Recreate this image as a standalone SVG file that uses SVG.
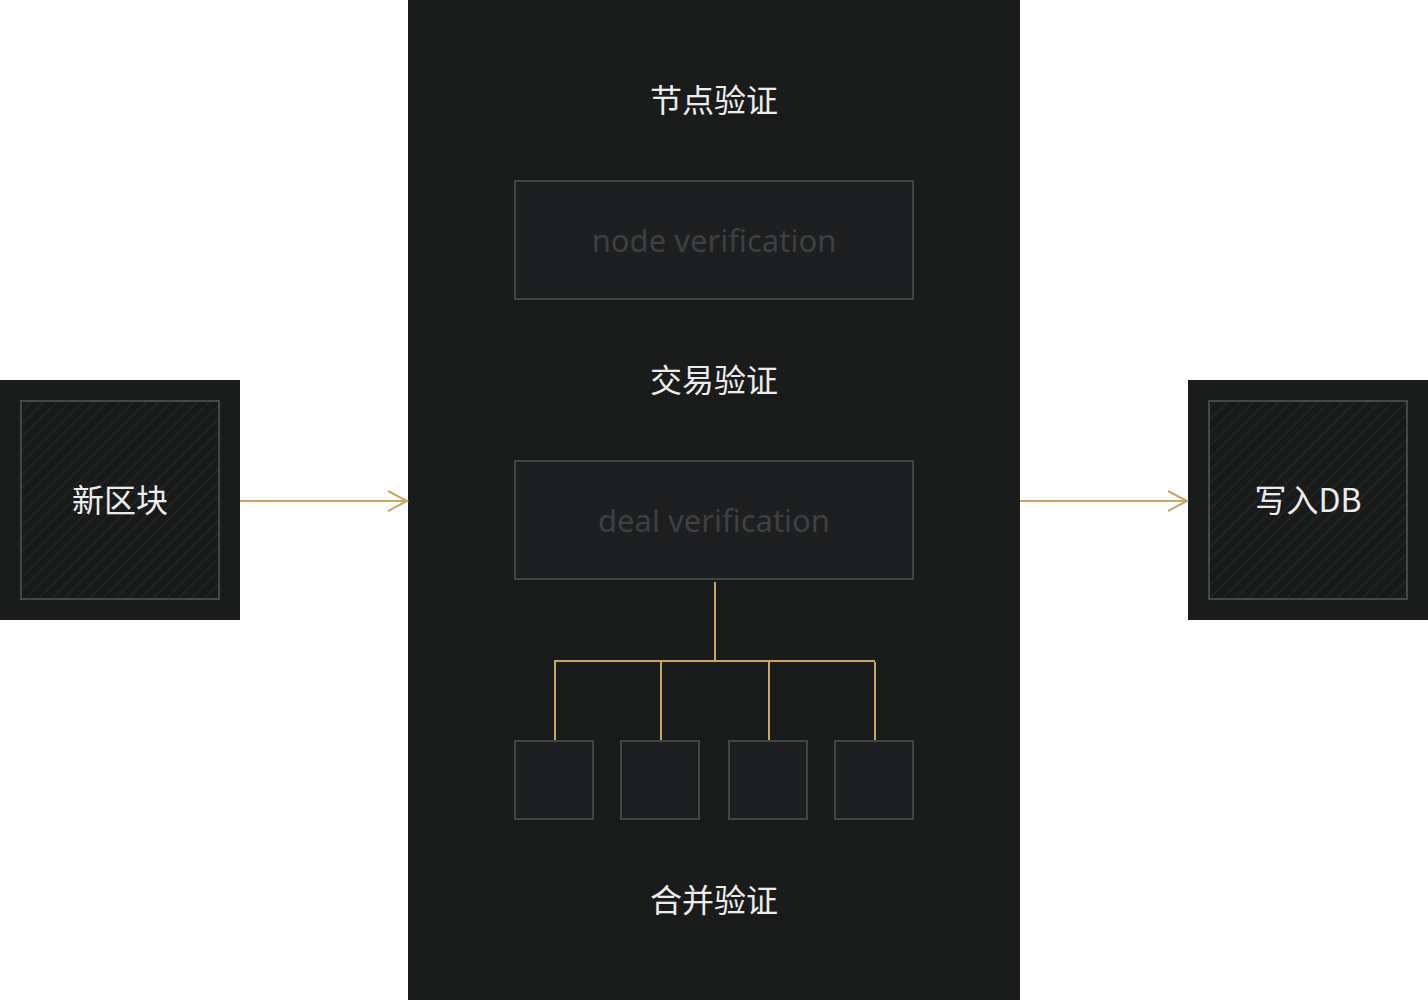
<svg xmlns="http://www.w3.org/2000/svg" width="1428" height="1000" viewBox="0 0 1428 1000">
<style>
.panel{fill:#1a1b1b}
.box{fill:#1d1f20;stroke:#434445;stroke-width:2}
.hbox{fill:url(#hatch);stroke:#464748;stroke-width:2}
.title{font-family:"Noto Sans CJK SC","Noto Sans",sans-serif;font-size:32px;fill:#ececec;text-anchor:middle}
.ghost{font-family:"Noto Sans","Liberation Sans",sans-serif;font-size:31px;fill:#3e4041;text-anchor:middle}
.conn{stroke:#c9a865;stroke-width:2;fill:none}
</style>
<defs>
<pattern id="hatch" patternUnits="userSpaceOnUse" width="9" height="9" patternTransform="rotate(45)">
<rect width="9" height="9" fill="#191a1a"/>
<line x1="0" y1="0" x2="0" y2="9" stroke="#272828" stroke-width="2"/>
</pattern>
<marker id="arr" markerWidth="24" markerHeight="24" refX="21" refY="12" orient="auto" markerUnits="userSpaceOnUse">
<path d="M2,2 L21,12 L2,22" fill="none" stroke="#c9a865" stroke-width="2"/>
</marker>
</defs>
<g id="new-block">
<rect class="panel" x="0" y="380" width="240" height="240"/>
<rect class="hbox" x="21" y="401" width="198" height="198"/>
<text class="title" x="120" y="512">新区块</text>
</g>
<g id="verify-panel">
<rect class="panel" x="408" y="0" width="612" height="1000"/>
<text class="title" x="714" y="112">节点验证</text>
<text class="title" x="714" y="392">交易验证</text>
<text class="title" x="714" y="912">合并验证</text>
</g>
<g id="node-verification">
<rect class="box" x="515" y="181" width="398" height="118"/>
<text class="ghost" x="714" y="252">node verification</text>
</g>
<g id="deal-verification">
<rect class="box" x="515" y="461" width="398" height="118"/>
<text class="ghost" x="714" y="532">deal verification</text>
</g>
<g id="sub1"><rect class="box" x="515" y="741" width="78" height="78"/></g>
<g id="sub2"><rect class="box" x="621" y="741" width="78" height="78"/></g>
<g id="sub3"><rect class="box" x="729" y="741" width="78" height="78"/></g>
<g id="sub4"><rect class="box" x="835" y="741" width="78" height="78"/></g>
<g id="write-db">
<rect class="panel" x="1188" y="380" width="240" height="240"/>
<rect class="hbox" x="1209" y="401" width="198" height="198"/>
<text class="title" x="1308" y="512">写入DB</text>
</g>
<g id="connectors">
<line class="conn" x1="240" y1="501" x2="407" y2="501" marker-end="url(#arr)"/>
<line class="conn" x1="1020" y1="501" x2="1187" y2="501" marker-end="url(#arr)"/>
<line class="conn" x1="715" y1="582" x2="715" y2="661"/>
<line class="conn" x1="554" y1="661" x2="875" y2="661"/>
<line class="conn" x1="555" y1="660" x2="555" y2="740"/>
<line class="conn" x1="661" y1="661" x2="661" y2="740"/>
<line class="conn" x1="769" y1="661" x2="769" y2="740"/>
<line class="conn" x1="875" y1="662" x2="875" y2="740"/>
</g>
</svg>
